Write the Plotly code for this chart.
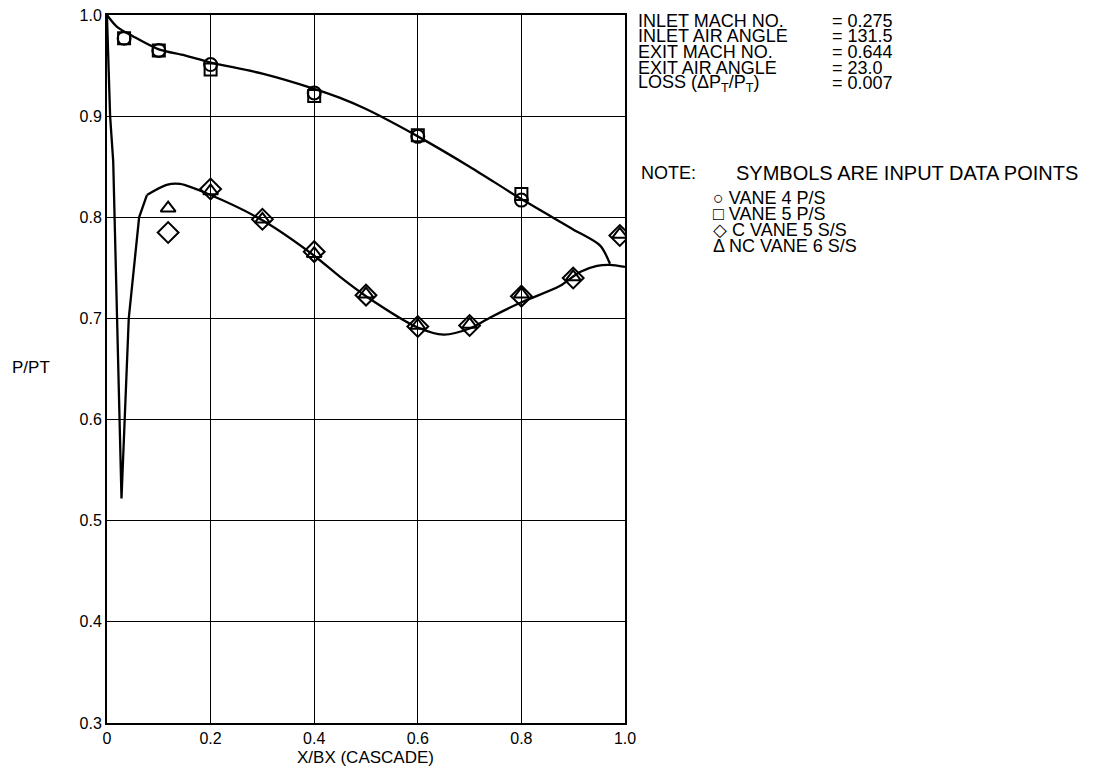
import plotly.graph_objects as go

# ---- data ----
circle_x = [0.033, 0.10, 0.20, 0.40, 0.60, 0.80]
circle_y = [0.977, 0.965, 0.951, 0.923, 0.880, 0.817]

square_x = [0.033, 0.10, 0.20, 0.40, 0.60, 0.80]
square_y = [0.977, 0.965, 0.946, 0.920, 0.881, 0.823]

diamond_x = [0.118, 0.20, 0.30, 0.40, 0.50, 0.60, 0.70, 0.80, 0.90, 0.99]
diamond_y = [0.785, 0.828, 0.798, 0.766, 0.723, 0.692, 0.693, 0.722, 0.740, 0.782]

triangle_x = [0.118, 0.20, 0.30, 0.40, 0.50, 0.60, 0.70, 0.80, 0.90, 0.99]
triangle_y = [0.809, 0.826, 0.798, 0.764, 0.724, 0.693, 0.694, 0.724, 0.741, 0.783]

# pressure-side curve
ps_x = [0.0, 0.02, 0.05, 0.10, 0.15, 0.20, 0.30, 0.40, 0.45, 0.50, 0.60, 0.70, 0.80, 0.90, 0.952, 0.971]
ps_y = [1.0, 0.988, 0.979, 0.966, 0.960, 0.953, 0.942, 0.927, 0.918, 0.907, 0.880, 0.850, 0.818, 0.788, 0.772, 0.754]

# suction-side curve, leading edge spike
le_x = [0.0, 0.006, 0.012, 0.028, 0.042, 0.062, 0.077]
le_y = [0.998, 0.900, 0.855, 0.522, 0.700, 0.800, 0.822]

# suction-side curve, rest
ss_x = [0.077, 0.115, 0.141, 0.20, 0.30, 0.40, 0.45, 0.50, 0.60, 0.65, 0.70, 0.74, 0.80, 0.874, 0.913, 0.946, 0.971, 1.0]
ss_y = [0.822, 0.832, 0.833, 0.822, 0.797, 0.762, 0.741, 0.722, 0.691, 0.684, 0.690, 0.701, 0.716, 0.732, 0.746, 0.752, 0.753, 0.751]

x_ticks = [0, 0.2, 0.4, 0.6, 0.8, 1.0]
x_tick_labels = ["0", "0.2", "0.4", "0.6", "0.8", "1.0"]
y_ticks = [0.3, 0.4, 0.5, 0.6, 0.7, 0.8, 0.9, 1.0]
y_tick_labels = ["0.3", "0.4", "0.5", "0.6", "0.7", "0.8", "0.9", "1.0"]

info_labels = ["INLET MACH NO.", "INLET AIR ANGLE", "EXIT MACH NO.", "EXIT AIR ANGLE",
               "LOSS (ΔP<sub>T</sub>/P<sub>T</sub>)"]
info_values = ["= 0.275", "= 131.5", "= 0.644", "= 23.0", "= 0.007"]
legend_lines = ["○ VANE 4 P/S", "□ VANE 5 P/S", "◇ C VANE 5 S/S", "Δ NC VANE 6 S/S"]

FONT = "Liberation Sans, Arial, sans-serif"

fig = go.Figure()

line_style = dict(color="black", width=2.3)
fig.add_trace(go.Scatter(x=ps_x, y=ps_y, mode="lines", line=dict(shape="spline", smoothing=0.8, **line_style)))
fig.add_trace(go.Scatter(x=le_x, y=le_y, mode="lines", line=dict(shape="linear", **line_style)))
fig.add_trace(go.Scatter(x=ss_x, y=ss_y, mode="lines", line=dict(shape="spline", smoothing=0.8, **line_style)))

def mk(sym, size):
    return dict(symbol=sym, size=size, color="rgba(255,255,255,0)", line=dict(color="black", width=2))

fig.add_trace(go.Scatter(x=circle_x, y=circle_y, mode="markers", marker=mk("circle", 13)))
fig.add_trace(go.Scatter(x=square_x, y=square_y, mode="markers", marker=mk("square", 12)))
fig.add_trace(go.Scatter(x=diamond_x, y=diamond_y, mode="markers", marker=mk("diamond", 16)))
fig.add_trace(go.Scatter(x=triangle_x, y=triangle_y, mode="markers", marker=mk("triangle-up", 13)))

L, R, T, B = 107, 479, 15, 54
W, H = 1104, 777
pw, ph = W - L - R, H - T - B

def px(xp):
    return (xp - L) / pw

def py(yp):
    return (H - B - yp) / ph

def add(xp, yp, text, size, xanchor="left"):
    ann.append(dict(x=px(xp), y=py(yp), text=text, xanchor=xanchor, yanchor="middle",
                    xref="paper", yref="paper", showarrow=False,
                    font=dict(family=FONT, size=size, color="black")))

ann = []
for i, (lab, val) in enumerate(zip(info_labels, info_values)):
    yc = 21 + 15.5 * i
    add(636, yc, lab, 18)
    add(830, yc, val, 18)
add(639, 173, "NOTE:", 18)
add(734, 173, "SYMBOLS ARE INPUT DATA POINTS", 20)
for i, t in enumerate(legend_lines):
    add(711, 198 + 16 * i, t, 18)
add(31, 367, "P/PT", 17, "center")
add(365, 757, "X/BX (CASCADE)", 17, "center")

fig.update_layout(
    width=W, height=H,
    margin=dict(l=L, r=R, t=T, b=B, autoexpand=False),
    paper_bgcolor="white", plot_bgcolor="white",
    showlegend=False,
    annotations=ann,
    font=dict(family=FONT, size=16, color="black"),
)
fig.update_xaxes(range=[0, 1.0], tickvals=x_ticks, ticktext=x_tick_labels,
                 showgrid=True, gridcolor="black", gridwidth=1.4,
                 showline=True, linecolor="black", linewidth=2, mirror=True,
                 zeroline=False, ticks="", tickfont=dict(size=16))
fig.update_yaxes(range=[0.3, 1.0], tickvals=y_ticks, ticktext=y_tick_labels,
                 showgrid=True, gridcolor="black", gridwidth=1.4,
                 showline=True, linecolor="black", linewidth=2, mirror=True,
                 zeroline=False, ticks="", tickfont=dict(size=16))

fig.write_html("out.html", config={"displayModeBar": False},
               post_script="document.body.style.margin='0';document.body.style.overflow='hidden';")
